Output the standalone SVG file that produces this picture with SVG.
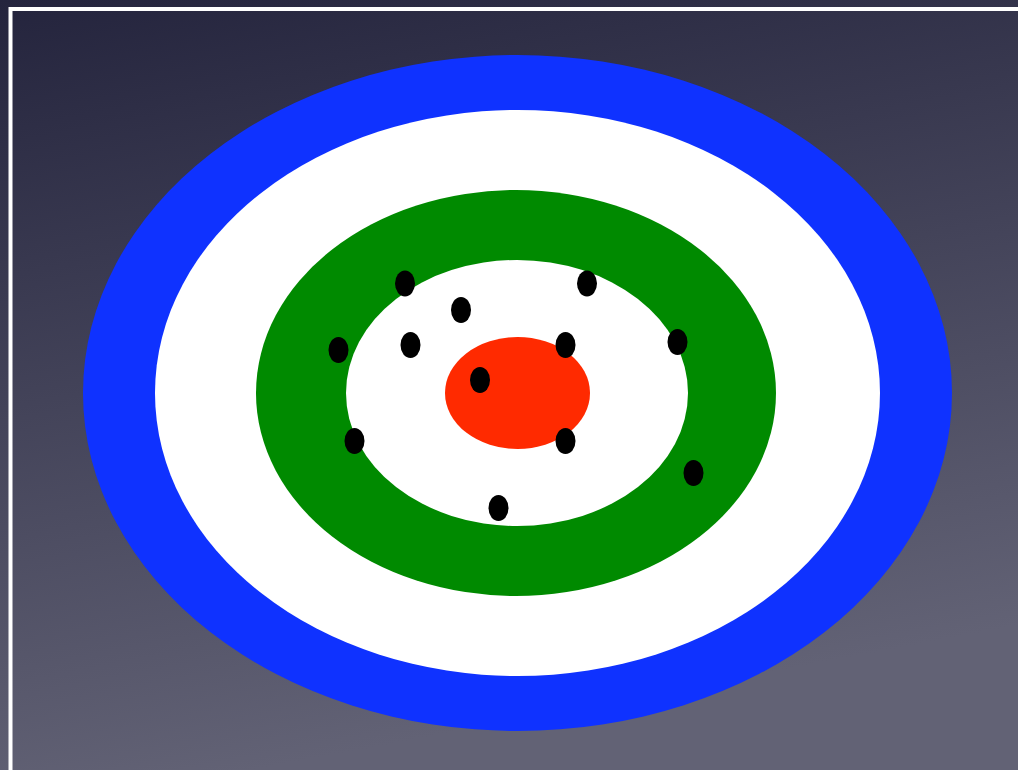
<svg xmlns="http://www.w3.org/2000/svg" width="1018" height="770" viewBox="0 0 1018 770">
<defs>
<linearGradient id="bg" x1="0" y1="0" x2="0.25" y2="1">
<stop offset="0" stop-color="#24243d"/>
<stop offset="1" stop-color="#626275"/>
</linearGradient>
</defs>
<style>
.dot{fill:#000}
</style>
<rect x="0" y="0" width="1018" height="770" fill="url(#bg)"/>
<rect x="10.5" y="9" width="1020" height="780" fill="none" stroke="#ffffff" stroke-width="4"/>
<g id="target">
<ellipse cx="517.5" cy="393" rx="434.5" ry="338" fill="#0f32ff"/>
<ellipse cx="517.5" cy="393" rx="362.5" ry="283" fill="#ffffff"/>
<ellipse cx="516" cy="393" rx="260" ry="203" fill="#008a00"/>
<ellipse cx="517" cy="393" rx="171" ry="133" fill="#ffffff"/>
<ellipse cx="517.5" cy="393" rx="72.5" ry="56" fill="#ff2a00"/>
</g>
<g id="hits">
<ellipse class="dot" cx="405" cy="283.5" rx="10" ry="13"/>
<ellipse class="dot" cx="461" cy="310" rx="10" ry="13"/>
<ellipse class="dot" cx="587" cy="283.5" rx="10" ry="13"/>
<ellipse class="dot" cx="338.5" cy="350" rx="10" ry="13"/>
<ellipse class="dot" cx="410.5" cy="345" rx="10" ry="13"/>
<ellipse class="dot" cx="565.5" cy="345" rx="10" ry="13"/>
<ellipse class="dot" cx="677.5" cy="342" rx="10" ry="13"/>
<ellipse class="dot" cx="480" cy="380" rx="10" ry="13"/>
<ellipse class="dot" cx="354.5" cy="441" rx="10" ry="13"/>
<ellipse class="dot" cx="565.5" cy="441" rx="10" ry="13"/>
<ellipse class="dot" cx="693.5" cy="473" rx="10" ry="13"/>
<ellipse class="dot" cx="498.5" cy="508" rx="10" ry="13"/>
</g>
</svg>
